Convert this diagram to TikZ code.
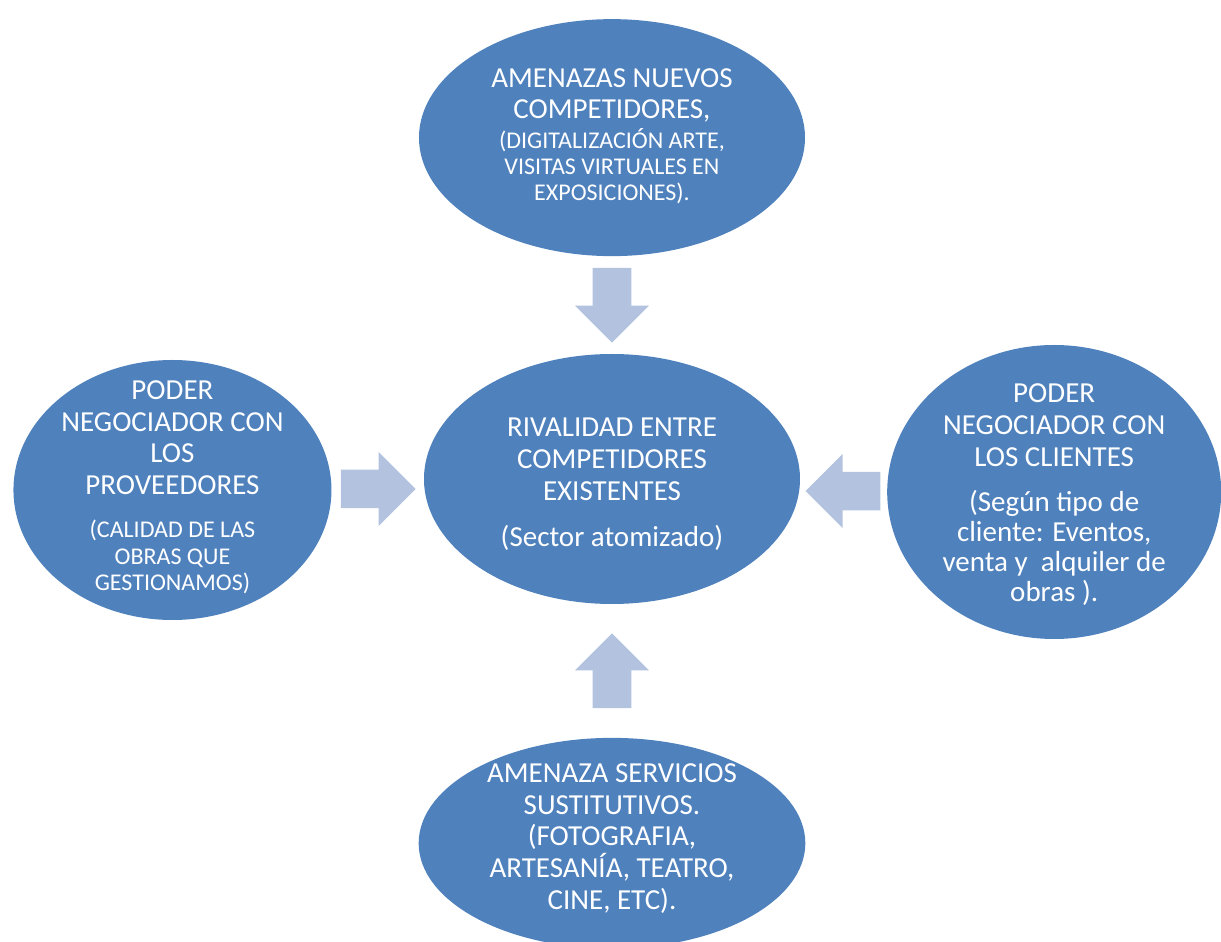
\documentclass[tikz,border=0pt]{standalone}
\usepackage{fontspec}
\setmainfont{Carlito}
\usetikzlibrary{positioning,shapes.geometric,shapes.arrows,calc}
\definecolor{fuerzaazul}{HTML}{4F81BD}
\definecolor{flechaazul}{HTML}{B3C3DF}
\newcommand{\grande}{\fontsize{21.75}{23.8}\selectfont\lineskiplimit=-20pt}
\newcommand{\chica}{\fontsize{18}{19.5}\selectfont}

\begin{document}
\begin{tikzpicture}[fuerza/.style = {ellipse, fill=fuerzaazul, inner sep=0pt},
    texto/.style = {text=white, align=flush center, text width=280pt, inner sep=0pt, font=\grande},
    flecha/.style = {single arrow, fill=flechaazul, inner xsep=0pt, inner ysep=14.25pt, minimum height=56pt, minimum width=55pt, single arrow head extend=13.25pt, anchor=tail}]
    \useasboundingbox (-459pt,-347.25pt) rectangle (456.75pt,359.25pt);

    \node[fuerza, minimum width=282pt, minimum height=187.5pt,
        label={[texto, yshift=-4pt]center:{RIVALIDAD ENTRE\\COMPETIDORES\\EXISTENTES\\[11.2pt](Sector atomizado)}}] (rival) {};

    \node[fuerza, minimum width=289.5pt, minimum height=177.75pt, above=73pt of rival,
        label={[texto, yshift=1pt]center:{AMENAZAS NUEVOS\\COMPETIDORES,\\[3pt]\chica(DIGITALIZACIÓN ARTE,\\VISITAS VIRTUALES EN\\EXPOSICIONES).\endgraf}}] (nuevos) {};

    \node[fuerza, minimum width=238.5pt, minimum height=195pt, left=69pt of rival, yshift=-8.25pt,
        label={[texto, yshift=2pt]center:{PODER\\NEGOCIADOR CON\\LOS\\PROVEEDORES\\[12pt]\fontsize{18}{20}\selectfont(CALIDAD DE LAS\\OBRAS QUE\\GESTIONAMOS)\endgraf}}] (proveedores) {};

    \node[fuerza, minimum width=250.5pt, minimum height=220.5pt, right=65pt of rival, yshift=-9.75pt,
        label={[texto, yshift=-2pt]center:{PODER\\NEGOCIADOR CON\\LOS CLIENTES\\[11.25pt]\fontsize{21.75}{22.5}\selectfont(Según tipo de\\cliente: Eventos,\\venta y\ \ alquiler de\\obras ).\endgraf}}] (clientes) {};

    \node[fuerza, minimum width=290pt, minimum height=158pt, below=100pt of rival,
        label={[texto, yshift=3.5pt]center:{AMENAZA SERVICIOS\\SUSTITUTIVOS.\\(FOTOGRAFIA,\\ARTESANÍA, TEATRO,\\CINE, ETC).}}] (sustitutos) {};

    % flechas hacia la rivalidad
    \node[flecha, rotate=-90] (f1) at ($(nuevos.south)!0.5!(rival.north)!28pt!(nuevos.south)$) {};
    \node[flecha] (f2) at ($(proveedores.east)!0.5!(rival.west)!28pt!(proveedores.east)$) {};
    \node[flecha, rotate=180] (f3) at ($(clientes.west)!0.5!(rival.east)!28pt!(clientes.west)$) {};
    \node[flecha, rotate=90] (f4) at ($(sustitutos.north)!0.5!(rival.south)!28pt!(sustitutos.north)$) {};
\end{tikzpicture}
\end{document}
